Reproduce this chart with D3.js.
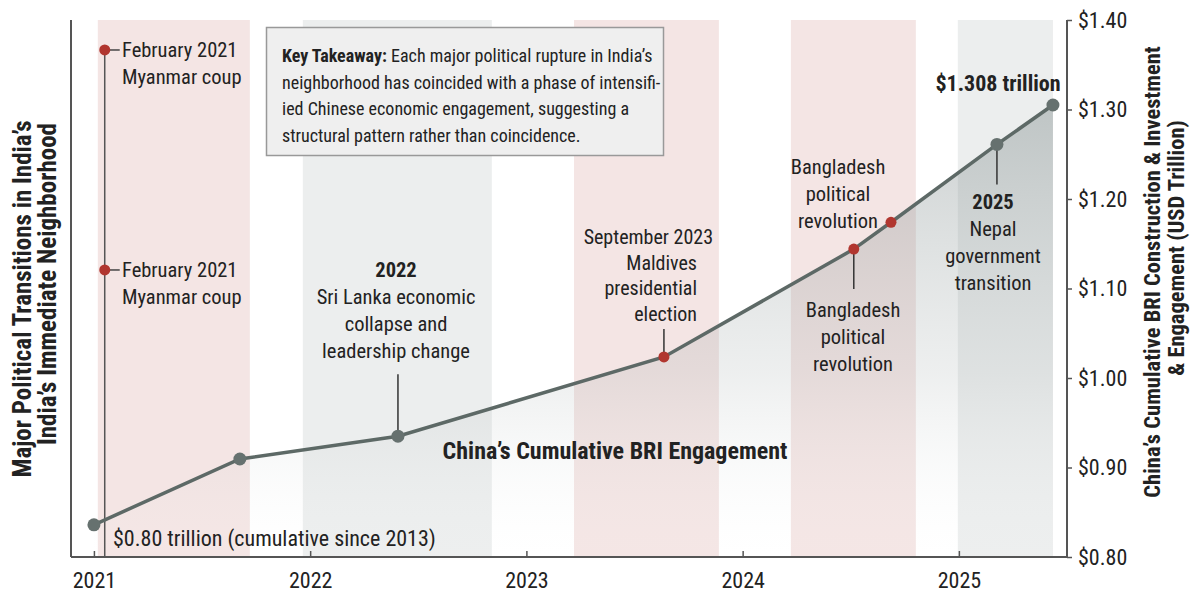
<!DOCTYPE html>
<html>
<head>
<meta charset="utf-8">
<script src="https://cdn.jsdelivr.net/npm/d3@7"></script>
<style>
  body { margin: 0; background: #fff; }
  svg text { font-family: "Roboto Condensed", "Liberation Sans Narrow", "DejaVu Sans Condensed", Roboto, sans-serif; font-stretch: condensed; fill: #222; }
</style>
</head>
<body>
<div id="vis"></div>
<script>
// cumulative BRI engagement (USD trillion), x in decimal years
var lineYears = [2021.0, 2021.675, 2022.406, 2023.636, 2024.514, 2024.686, 2025.176, 2025.435];
var lineValues = [0.836, 0.9095, 0.935, 1.0235, 1.144, 1.174, 1.261, 1.305];
var pointKinds = ['base', 'base', 'base', 'event', 'event', 'event', 'base', 'base'];

// Feb 2021 markers on the event stem
var stemYear = 2021.05;
var stemValues = [1.3665, 1.1207];

// shaded periods
var bandStarts = [2021.018, 2021.966, 2023.22, 2024.223, 2024.995];
var bandEnds = [2021.721, 2022.84, 2023.89, 2024.801, 2025.435];
var bandKinds = ['rupture', 'calm', 'rupture', 'rupture', 'calm'];

var yearTicks = [2021, 2022, 2023, 2024, 2025];
var valueTicks = [0.8, 0.9, 1.0, 1.1, 1.2, 1.3, 1.4];

var width = 1194;
var height = 593;
var margin = { left: 71, right: 127, top: 20, bottom: 36 };

var x = d3.scaleLinear()
  .domain([2020.894, 2025.5])
  .range([margin.left, width - margin.right]);

var y = d3.scaleLinear()
  .domain([0.8, 1.4])
  .range([height - margin.bottom, margin.top]);

var svg = d3.select('#vis').append('svg')
  .attr('width', width)
  .attr('height', height);

var defs = svg.append('defs');
var grad = defs.append('linearGradient')
  .attr('id', 'areaFill')
  .attr('gradientUnits', 'userSpaceOnUse')
  .attr('x1', 0).attr('x2', 0)
  .attr('y1', y(1.31)).attr('y2', y(0.8));
grad.append('stop').attr('offset', 0).attr('stop-color', '#7f8b8b').attr('stop-opacity', 0.42);
grad.append('stop').attr('offset', 0.6).attr('stop-color', '#a7afaf').attr('stop-opacity', 0.2);
grad.append('stop').attr('offset', 1).attr('stop-color', '#ffffff').attr('stop-opacity', 0.05);

// bands
var bands = bandStarts.map(function (s, i) {
  return { start: s, end: bandEnds[i], kind: bandKinds[i] };
});
svg.selectAll('.band')
  .data(bands)
  .enter().append('rect')
  .attr('class', 'band')
  .attr('x', function (d) { return x(d.start); })
  .attr('width', function (d) { return x(d.end) - x(d.start); })
  .attr('y', y(1.4))
  .attr('height', y(0.8) - y(1.4))
  .attr('fill', function (d) { return d.kind === 'rupture' ? '#f4e5e4' : '#eceeee'; });

var points = lineYears.map(function (yr, i) {
  return { year: yr, value: lineValues[i], kind: pointKinds[i] };
});

// area under line
var area = d3.area()
  .x(function (d) { return x(d.year); })
  .y0(y(0.8))
  .y1(function (d) { return y(d.value); });
svg.append('path')
  .datum(points)
  .attr('d', area)
  .attr('fill', 'url(#areaFill)');

// axes
var bottomAxis = d3.axisBottom(x)
  .tickValues(yearTicks)
  .tickFormat(d3.format('d'))
  .tickSize(6)
  .tickPadding(6);
var gx = svg.append('g')
  .attr('transform', 'translate(0,' + y(0.8) + ')')
  .call(bottomAxis);
gx.select('.domain').attr('stroke', '#555').attr('stroke-width', 2).attr('d', 'M' + x.range()[0] + ',0H' + x.range()[1]);
gx.selectAll('.tick line').attr('stroke', '#555').attr('stroke-width', 1.5).attr('y1', -6).attr('y2', 0);
gx.selectAll('.tick text').attr('font-size', 22).attr('y', 12).attr('dy', '0.88em').attr('fill', '#222');

var rightAxis = d3.axisRight(y)
  .tickValues(valueTicks)
  .tickFormat(function (d) { return '$' + d3.format('.2f')(d); })
  .tickSize(5)
  .tickPadding(6);
var gy = svg.append('g')
  .attr('transform', 'translate(' + x.range()[1] + ',0)')
  .call(rightAxis);
gy.select('.domain').attr('stroke', '#555').attr('stroke-width', 2).attr('d', 'M0,' + y.range()[1] + 'V' + y.range()[0]);
gy.selectAll('.tick line').attr('stroke', '#555').attr('stroke-width', 1.5);
gy.selectAll('.tick text').attr('font-size', 22).attr('fill', '#222');

svg.append('line')
  .attr('x1', x.range()[0]).attr('x2', x.range()[0])
  .attr('y1', y(1.4)).attr('y2', y(0.8))
  .attr('stroke', '#555').attr('stroke-width', 2);

// axis titles
svg.append('text')
  .attr('transform', 'translate(31,299) rotate(-90)')
  .attr('text-anchor', 'middle')
  .attr('font-size', 25).attr('font-weight', 'bold')
  .text('Major Political Transitions in India\u2019s');
svg.append('text')
  .attr('transform', 'translate(56,284) rotate(-90)')
  .attr('text-anchor', 'middle')
  .attr('font-size', 25).attr('font-weight', 'bold')
  .text('India\u2019s Immediate Neighborhood');

svg.append('text')
  .attr('transform', 'translate(1160,272) rotate(-90)')
  .attr('text-anchor', 'middle')
  .attr('font-size', 22.5).attr('font-weight', 'bold')
  .text('China\u2019s Cumulative BRI Construction & Investment');
svg.append('text')
  .attr('transform', 'translate(1184,248) rotate(-90)')
  .attr('text-anchor', 'middle')
  .attr('font-size', 22.5).attr('font-weight', 'bold')
  .text('& Engagement (USD Trillion)');

// Feb 2021 stem
svg.append('line')
  .attr('x1', x(stemYear)).attr('x2', x(stemYear))
  .attr('y1', y(stemValues[0])).attr('y2', y(0.8))
  .attr('stroke', '#555').attr('stroke-width', 1.5);
svg.selectAll('.stemDash')
  .data(stemValues)
  .enter().append('line')
  .attr('x1', x(stemYear)).attr('x2', x(stemYear) + 15)
  .attr('y1', function (d) { return y(d); })
  .attr('y2', function (d) { return y(d); })
  .attr('stroke', '#444').attr('stroke-width', 1.5);
svg.selectAll('.stemDot')
  .data(stemValues)
  .enter().append('circle')
  .attr('cx', x(stemYear))
  .attr('cy', function (d) { return y(d); })
  .attr('r', 5.5)
  .attr('fill', '#b1362f');

// leader lines for annotations: [year, value, length, direction]
var leaders = [
  [2022.406, 0.935, 62, -1],
  [2023.636, 1.0235, 28, -1],
  [2024.514, 1.144, 40, 1],
  [2025.176, 1.261, 40, 1]
];
svg.selectAll('.leader')
  .data(leaders)
  .enter().append('line')
  .attr('x1', function (d) { return x(d[0]); })
  .attr('x2', function (d) { return x(d[0]); })
  .attr('y1', function (d) { return y(d[1]); })
  .attr('y2', function (d) { return y(d[1]) + d[2] * d[3]; })
  .attr('stroke', '#333').attr('stroke-width', 1.5);

// main line
var line = d3.line()
  .x(function (d) { return x(d.year); })
  .y(function (d) { return y(d.value); });
svg.append('path')
  .datum(points)
  .attr('d', line)
  .attr('fill', 'none')
  .attr('stroke', '#5d6966')
  .attr('stroke-width', 3.5);

svg.selectAll('.pt')
  .data(points)
  .enter().append('circle')
  .attr('cx', function (d) { return x(d.year); })
  .attr('cy', function (d) { return y(d.value); })
  .attr('r', function (d) { return d.kind === 'event' ? 5.5 : 6.5; })
  .attr('fill', function (d) { return d.kind === 'event' ? '#b1362f' : '#66716f'; });

// key takeaway box
svg.append('rect')
  .attr('x', 266.5).attr('y', 27.5)
  .attr('width', 397).attr('height', 128)
  .attr('fill', '#efefef')
  .attr('stroke', '#999').attr('stroke-width', 1.5);

var boxText = svg.append('text').attr('font-size', 18);
var boxLines = [
  [['Key Takeaway: ', true], ['Each major political rupture in India\u2019s', false]],
  [['neighborhood has coincided with a phase of intensifi-', false]],
  [['ied Chinese economic engagement, suggesting a', false]],
  [['structural pattern rather than coincidence.', false]]
];
boxLines.forEach(function (parts, i) {
  parts.forEach(function (p, j) {
    var t = boxText.append('tspan').text(p[0]).attr('font-weight', p[1] ? 'bold' : 'normal');
    if (j === 0) t.attr('x', 282).attr('y', 62 + i * 26.5);
  });
});

// annotation blocks: x, first baseline, anchor, line gap, lines [text, bold]
var notes = [
  { x: 122, y: 57, anchor: 'start', gap: 27, lines: [['February 2021', false], ['Myanmar coup', false]] },
  { x: 122, y: 277, anchor: 'start', gap: 27, lines: [['February 2021', false], ['Myanmar coup', false]] },
  { x: 396, y: 277, anchor: 'middle', gap: 27, lines: [['2022', true], ['Sri Lanka economic', false], ['collapse and', false], ['leadership change', false]] },
  { x: 838, y: 174, anchor: 'middle', gap: 27, lines: [['Bangladesh', false], ['political', false], ['revolution', false]] },
  { x: 853, y: 317, anchor: 'middle', gap: 27, lines: [['Bangladesh', false], ['political', false], ['revolution', false]] },
  { x: 993, y: 209, anchor: 'middle', gap: 27, lines: [['2025', true], ['Nepal', false], ['government', false], ['transition', false]] }
];
notes.forEach(function (n) {
  var t = svg.append('text').attr('font-size', 20.5).attr('text-anchor', n.anchor);
  n.lines.forEach(function (l, i) {
    t.append('tspan').attr('x', n.x).attr('y', n.y + i * n.gap)
      .attr('font-weight', l[1] ? 'bold' : 'normal')
      .text(l[0]);
  });
});

var maldives = svg.append('text').attr('font-size', 20).attr('text-anchor', 'end');
[['September 2023', 713], ['Maldives', 697], ['presidential', 697], ['election', 697]].forEach(function (l, i) {
  maldives.append('tspan').attr('x', l[1]).attr('y', 244 + i * 25.5).text(l[0]);
});

svg.append('text')
  .attr('x', 998).attr('y', 91)
  .attr('text-anchor', 'middle')
  .attr('font-size', 22).attr('font-weight', 'bold')
  .text('$1.308 trillion');

svg.append('text')
  .attr('x', 615).attr('y', 459)
  .attr('text-anchor', 'middle')
  .attr('font-size', 24).attr('font-weight', 'bold')
  .text('China\u2019s Cumulative BRI Engagement');

svg.append('text')
  .attr('x', 113).attr('y', 546)
  .attr('font-size', 22)
  .text('$0.80 trillion (cumulative since 2013)');
</script>
</body>
</html>
